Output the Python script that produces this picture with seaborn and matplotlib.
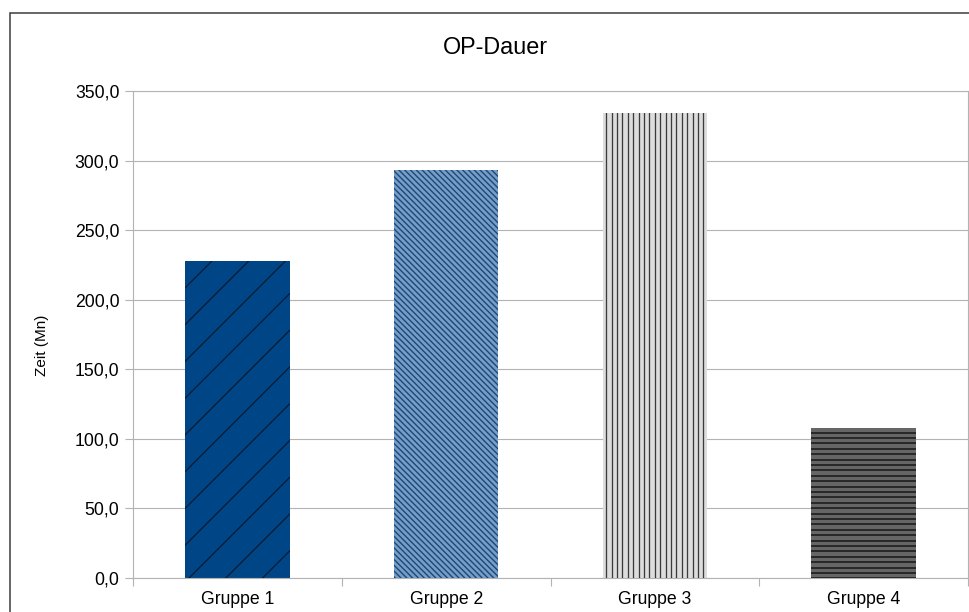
import matplotlib
matplotlib.use("Agg")
import matplotlib.pyplot as plt
import seaborn as sns
import numpy as np
import pandas as pd
from matplotlib.collections import LineCollection
from matplotlib.transforms import IdentityTransform
from matplotlib.patches import Rectangle
from matplotlib.ticker import FuncFormatter, FixedLocator

# Data
groups = ["Gruppe 1", "Gruppe 2", "Gruppe 3", "Gruppe 4"]
minutes = [228.0, 293.5, 334.5, 108.0]
yticks = [0, 50, 100, 150, 200, 250, 300, 350]
title = "OP-Dauer"
ylabel = "Zeit (Mn)"

# Styling
fill_colors = ["#004586", "#729fcf", "#dddddd", "#666666"]
# (angle in degrees, spacing in px perpendicular to lines, colour, width px)
hatch_styles = [
    (45, 26.0, "#0a1a2e", 1.2),
    (-45, 4.1, "#27466b", 1.4),
    (90, 5.4, "#3a3a3a", 1.3),
    (0, 5.4, "#151515", 1.5),
]
grid_gray = "#b3b3b3"

sns.set_theme(style="white")
plt.rcParams["font.family"] = ["Liberation Sans", "DejaVu Sans"]

W, H = 970, 612
fig = plt.figure(figsize=(W / 100, H / 100), dpi=100)
ax = fig.add_axes([133 / W, 34 / H, 835 / W, 487 / H])

df = pd.DataFrame({"Gruppe": groups, "Minuten": minutes})
sns.barplot(data=df, x="Gruppe", y="Minuten", hue="Gruppe", palette=fill_colors,
            width=0.5, saturation=1, legend=False, errorbar=None,
            linewidth=0, ax=ax, zorder=2)

ax.set_xlim(-0.5, len(groups) - 0.5)
ax.set_ylim(yticks[0], yticks[-1])
ax.set_xlabel("")
ax.set_ylabel("")

# Axes frame and grid
ax.set_axisbelow(True)
ax.yaxis.grid(True, color=grid_gray, lw=0.8)
for sp in ax.spines.values():
    sp.set_visible(True)
    sp.set_color(grid_gray)
    sp.set_linewidth(0.8)

ax.yaxis.set_major_locator(FixedLocator(yticks))
ax.yaxis.set_major_formatter(FuncFormatter(lambda v, p: f"{v:.1f}".replace(".", ",")))
ax.tick_params(axis="y", which="major", left=True, length=5.8, width=0.8,
               color=grid_gray, pad=4, labelsize=12.7, labelcolor="#000000")

ax.set_xticks(range(len(groups)))
ax.set_xticklabels(groups)
ax.xaxis.set_minor_locator(FixedLocator(np.arange(-0.5, len(groups), 1.0)))
ax.tick_params(axis="x", which="major", bottom=True, length=0, pad=9,
               labelsize=12.7, labelcolor="#000000")
ax.tick_params(axis="x", which="minor", bottom=True, length=5.8, width=0.8,
               color=grid_gray)

# Titles
fig.text(495 / W, 1 - 47 / H, title, ha="center", va="center",
         fontsize=16.8, color="#000000")
fig.text(42 / W, 1 - 345 / H, ylabel, ha="center", va="center",
         rotation=90, fontsize=11, color="#000000")

# Outer chart border (open towards right and bottom)
fig.add_artist(Rectangle((10 / W, -0.1), 1.0, (1 - 13 / H) + 0.1,
                         transform=fig.transFigure, fill=False,
                         ec="#3c3c3c", lw=1.1))


def add_hatch(patch, angle, spacing, color, lw):
    """Draw parallel lines (in pixel space) clipped to a bar."""
    bb = patch.get_window_extent()
    cx, cy = (bb.x0 + bb.x1) / 2, (bb.y0 + bb.y1) / 2
    half = np.hypot(bb.width, bb.height) / 2 + spacing
    a = np.deg2rad(angle)
    d = np.array([np.cos(a), np.sin(a)])
    n = np.array([-np.sin(a), np.cos(a)])
    k = int(half / spacing) + 1
    segs = []
    for i in range(-k, k + 1):
        p = np.array([cx, cy]) + i * spacing * n
        segs.append([p - half * d, p + half * d])
    lc = LineCollection(segs, colors=color, linewidths=lw * 0.72,
                        transform=IdentityTransform(), zorder=3)
    ax.add_artist(lc)
    # clip after adding, so the axes default clip does not replace it
    lc.set_clip_path(patch)


fig.canvas.draw()
for patch, (ang, sp, col, lw) in zip(ax.patches, hatch_styles):
    add_hatch(patch, ang, sp, col, lw)

fig.savefig("out.png", dpi=100)
